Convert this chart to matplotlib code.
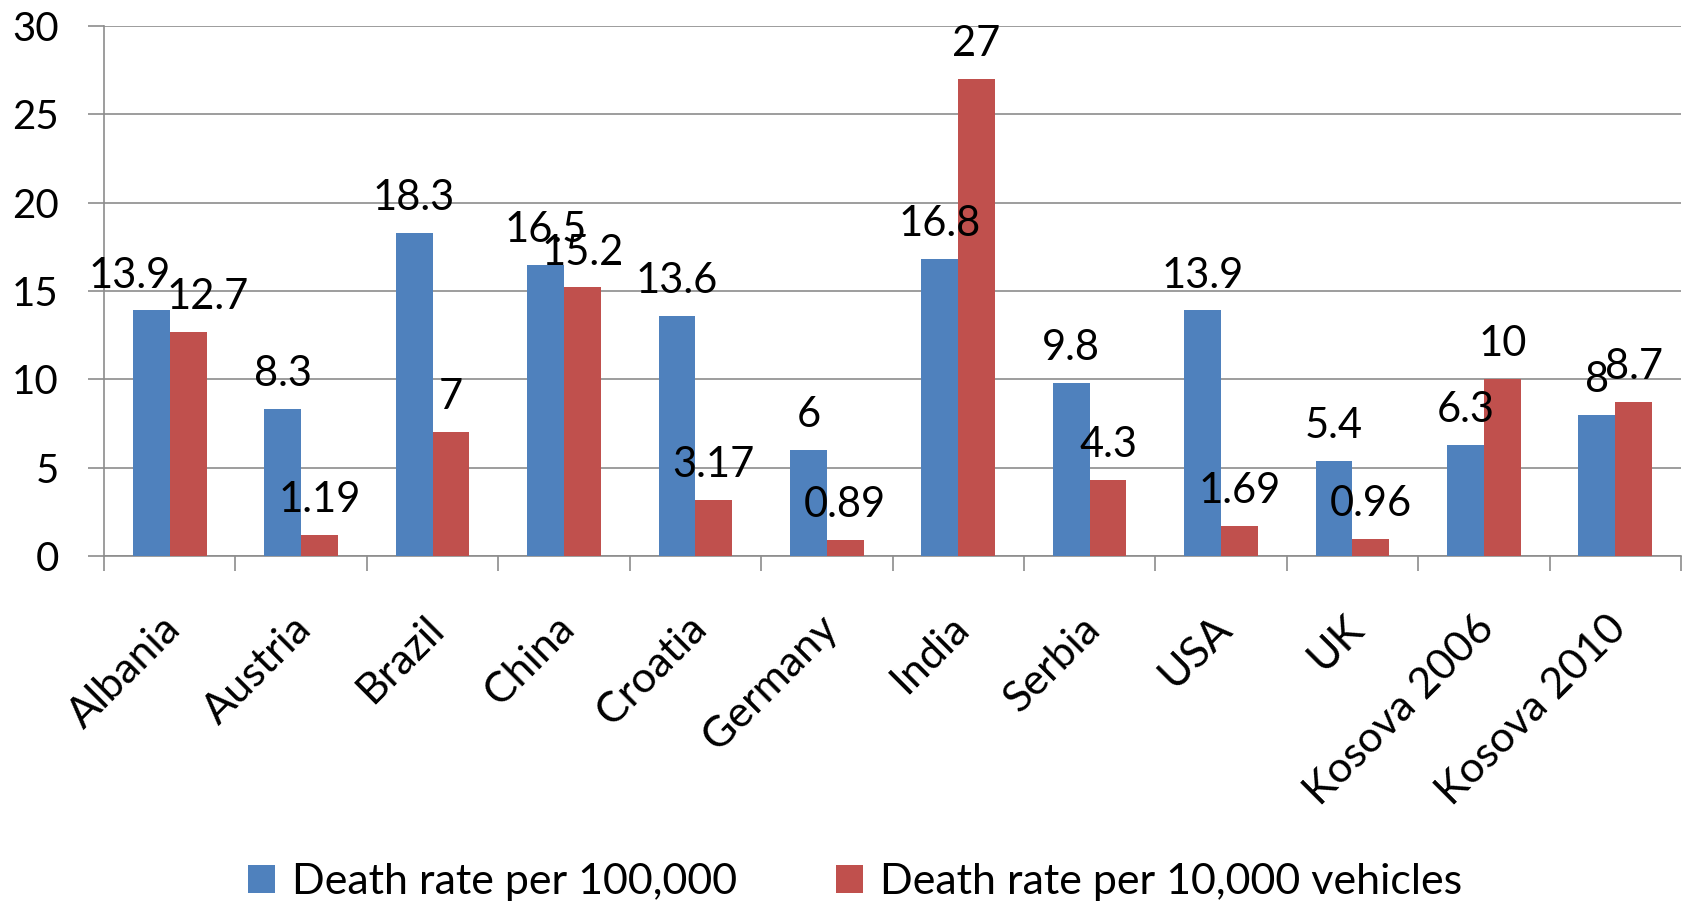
import matplotlib
matplotlib.use("Agg")
import matplotlib.pyplot as plt
import numpy as np
from matplotlib.patches import Patch
from matplotlib.transforms import ScaledTranslation

categories = ["Albania", "Austria", "Brazil", "China", "Croatia", "Germany",
              "India", "Serbia", "USA", "UK", "Kosova 2006", "Kosova 2010"]
death_per_100k = [13.9, 8.3, 18.3, 16.5, 13.6, 6, 16.8, 9.8, 13.9, 5.4, 6.3, 8]
death_per_10k_veh = [12.7, 1.19, 7, 15.2, 3.17, 0.89, 27, 4.3, 1.69, 0.96, 10, 8.7]
series_names = ["Death rate per 100,000", "Death rate per 10,000 vehicles"]
label_text_blue = ["13.9", "8.3", "18.3", "16.5", "13.6", "6", "16.8", "9.8", "13.9", "5.4", "6.3", "8"]
label_text_red = ["12.7", "1.19", "7", "15.2", "3.17", "0.89", "27", "4.3", "1.69", "0.96", "10", "8.7"]
yticks = [0, 5, 10, 15, 20, 25, 30]

BLUE = "#4F81BD"
RED = "#C0504D"
GRID = "#8C8C8C"
FONT = ["Lato", "DejaVu Sans"]
FS = 29
FS_LAB = 30
FS_CAT = 31
FS_LEG = 31

plt.rcParams["font.family"] = FONT

fig = plt.figure(figsize=(16.91, 9.09), dpi=100)
ax = fig.add_axes([104/1691, 1-556/909, (1681-104)/1691, (556-26)/909])

x = np.arange(len(categories))
w = 0.28
ax.bar(x - w/2, death_per_100k, width=w, color=BLUE, edgecolor="none", zorder=3)
ax.bar(x + w/2, death_per_10k_veh, width=w, color=RED, edgecolor="none", zorder=3)

# data labels
dx_blue = {0: -22}
dx_red = {0: 20}
for i in range(len(categories)):
    ax.annotate(label_text_blue[i], (x[i] - w/2, death_per_100k[i]),
                xytext=(dx_blue.get(i, 0)*0.72, 16.5), textcoords="offset points",
                ha="center", va="baseline", fontsize=FS_LAB, color="black", zorder=5)
    ax.annotate(label_text_red[i], (x[i] + w/2, death_per_10k_veh[i]),
                xytext=(dx_red.get(i, 0)*0.72, 16.5), textcoords="offset points",
                ha="center", va="baseline", fontsize=FS_LAB, color="black", zorder=5)

ax.set_xlim(-0.5, len(categories) - 0.5)
ax.set_ylim(0, 30)

# y axis
ax.set_yticks(yticks)
ax.set_yticklabels([str(v) for v in yticks], fontsize=FS)
ax.tick_params(axis="y", length=11.5, width=1.2, color=GRID, pad=21)
ax.yaxis.grid(True, color=GRID, linewidth=1.2, zorder=0)
ax.set_axisbelow(True)

# x axis: major ticks at boundaries, labels on minor ticks at centers
ax.set_xticks(np.arange(-0.5, len(categories), 1.0))
ax.set_xticklabels([])
ax.set_xticks(x, minor=True)
ax.set_xticklabels(categories, minor=True, fontsize=FS_CAT, rotation=45,
                   ha="right", va="top", rotation_mode="anchor")
ax.tick_params(axis="x", which="major", length=11, width=1.2, color=GRID)
ax.tick_params(axis="x", which="minor", length=0, pad=38)
shift = ScaledTranslation(-9/100, 0, fig.dpi_scale_trans)
for lab in ax.get_xticklabels(minor=True):
    lab.set_transform(lab.get_transform() + shift)

for s in ["top", "right"]:
    ax.spines[s].set_visible(False)
for s in ["left", "bottom"]:
    ax.spines[s].set_color(GRID)
    ax.spines[s].set_linewidth(1.2)

handles = [Patch(facecolor=BLUE, edgecolor="none"), Patch(facecolor=RED, edgecolor="none")]
fig.legend(handles, series_names, loc="center", bbox_to_anchor=(855/1691, 1-882/909),
           ncol=2, frameon=False, fontsize=FS_LEG, handlelength=0.62, handleheight=0.62,
           handletextpad=0.4, columnspacing=2.3)

fig.savefig("out.png", dpi=100, facecolor="white")
